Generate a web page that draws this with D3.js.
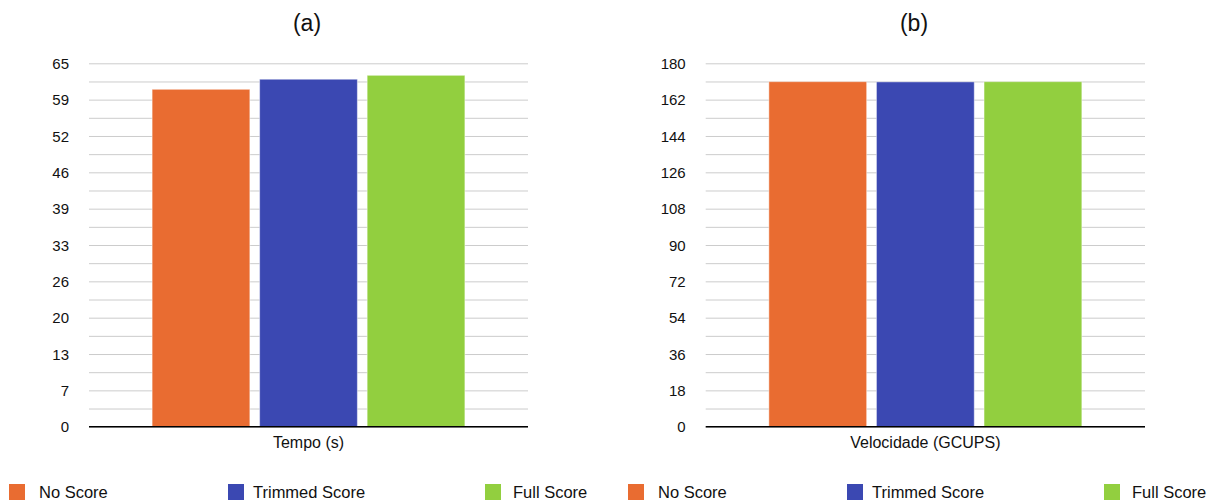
<!DOCTYPE html>
<html>
<head>
<meta charset="utf-8">
<script src="https://cdn.jsdelivr.net/npm/d3@7"></script>
<style>
  body { margin: 0; background: #fff; }
  svg text { font-family: "Liberation Sans", Arial, sans-serif; fill: #111; }
</style>
</head>
<body>
<svg id="chart" width="1210" height="502"></svg>
<script>
// data
const seriesNames = ["No Score", "Trimmed Score", "Full Score"];
const seriesColors = ["#e96c31", "#3b48b2", "#92cf3f"];

const tempoValues = [60.35, 62.15, 62.85];
const tempoTickLabels = ["0", "7", "13", "20", "26", "33", "39", "46", "52", "59", "65"];

const gcupsValues = [170.9, 170.8, 170.9];
const gcupsTickLabels = ["0", "18", "36", "54", "72", "90", "108", "126", "144", "162", "180"];

const svg = d3.select("#chart");
const plotTop = 63.3, plotBottom = 426.7;

// draws one panel: gridlines, bars, axis labels, title
function drawPanel(opts) {
    let g = svg.append("g");
    let maxV = opts.max;
    let step = maxV / (opts.ticks.length - 1);

    let yScale = d3.scaleLinear()
        .domain([0, maxV])
        .range([plotBottom, plotTop]);

    let xScale = d3.scaleBand()
        .domain(seriesNames)
        .range([opts.x0, opts.x1])
        .paddingInner(0.091)
        .paddingOuter(0.587);

    // grid, major and minor lines look the same
    let gridVals = d3.range(0, opts.ticks.length * 2 - 1).map(i => i * step / 2);
    g.append("g")
        .call(d3.axisLeft(yScale).tickValues(gridVals)
            .tickSize(-(opts.x1 - opts.x0)).tickFormat(""))
        .attr("transform", "translate(" + opts.x0 + ",0)")
        .call(a => a.select(".domain").remove())
        .call(a => a.selectAll("line").attr("stroke", "#cccccc").attr("stroke-width", 1));

    // tick labels
    let yAxis = g.append("g")
        .attr("transform", "translate(" + (opts.x0 - 20) + ",0)")
        .call(d3.axisLeft(yScale)
            .tickValues(opts.ticks.map((d, i) => i * step))
            .tickFormat((d, i) => opts.ticks[i])
            .tickSize(0).tickPadding(0));
    yAxis.select(".domain").remove();
    yAxis.selectAll("text")
        .style("font-family", "Liberation Sans, Arial, sans-serif")
        .style("font-size", "15px")
        .attr("fill", "#111")
        .attr("dy", "0.35em");

    // bars
    g.selectAll("rect.bar")
        .data(opts.values)
        .enter()
        .append("rect")
        .attr("class", "bar")
        .attr("x", (d, i) => xScale(seriesNames[i]))
        .attr("y", d => yScale(d))
        .attr("width", xScale.bandwidth())
        .attr("height", d => yScale(0) - yScale(d))
        .attr("fill", (d, i) => seriesColors[i])
        .attr("stroke", "rgba(255,255,255,0.45)")
        .attr("stroke-width", 1);

    // baseline
    g.append("line")
        .attr("x1", opts.x0).attr("x2", opts.x1)
        .attr("y1", yScale(0)).attr("y2", yScale(0))
        .attr("stroke", "#000").attr("stroke-width", 1.6);

    // category label
    g.append("text")
        .attr("x", (opts.x0 + opts.x1) / 2)
        .attr("y", 448)
        .attr("text-anchor", "middle")
        .style("font-size", "16px")
        .text(opts.label);

    // title
    g.append("text")
        .attr("x", opts.titleX)
        .attr("y", 31)
        .attr("text-anchor", "middle")
        .style("font-size", "23px")
        .text(opts.title);

    // legend
    let legendX = [0, 219, 476];
    let lg = g.selectAll("g.legend")
        .data(seriesNames)
        .enter()
        .append("g")
        .attr("class", "legend")
        .attr("transform", (d, i) => "translate(" + (opts.legendX + legendX[i]) + ",484)");
    lg.append("rect")
        .attr("width", 16).attr("height", 16)
        .attr("fill", (d, i) => seriesColors[i]);
    lg.append("text")
        .attr("x", (d, i) => i == 0 ? 30 : i == 1 ? 25 : 28)
        .attr("y", 13.5)
        .style("font-size", "16.5px")
        .text(d => d);
}

drawPanel({ x0: 89, x1: 528, max: 65, ticks: tempoTickLabels, values: tempoValues,
    label: "Tempo (s)", title: "(a)", titleX: 307, legendX: 9 });
drawPanel({ x0: 705.7, x1: 1145, max: 180, ticks: gcupsTickLabels, values: gcupsValues,
    label: "Velocidade (GCUPS)", title: "(b)", titleX: 914, legendX: 628 });
</script>
</body>
</html>
